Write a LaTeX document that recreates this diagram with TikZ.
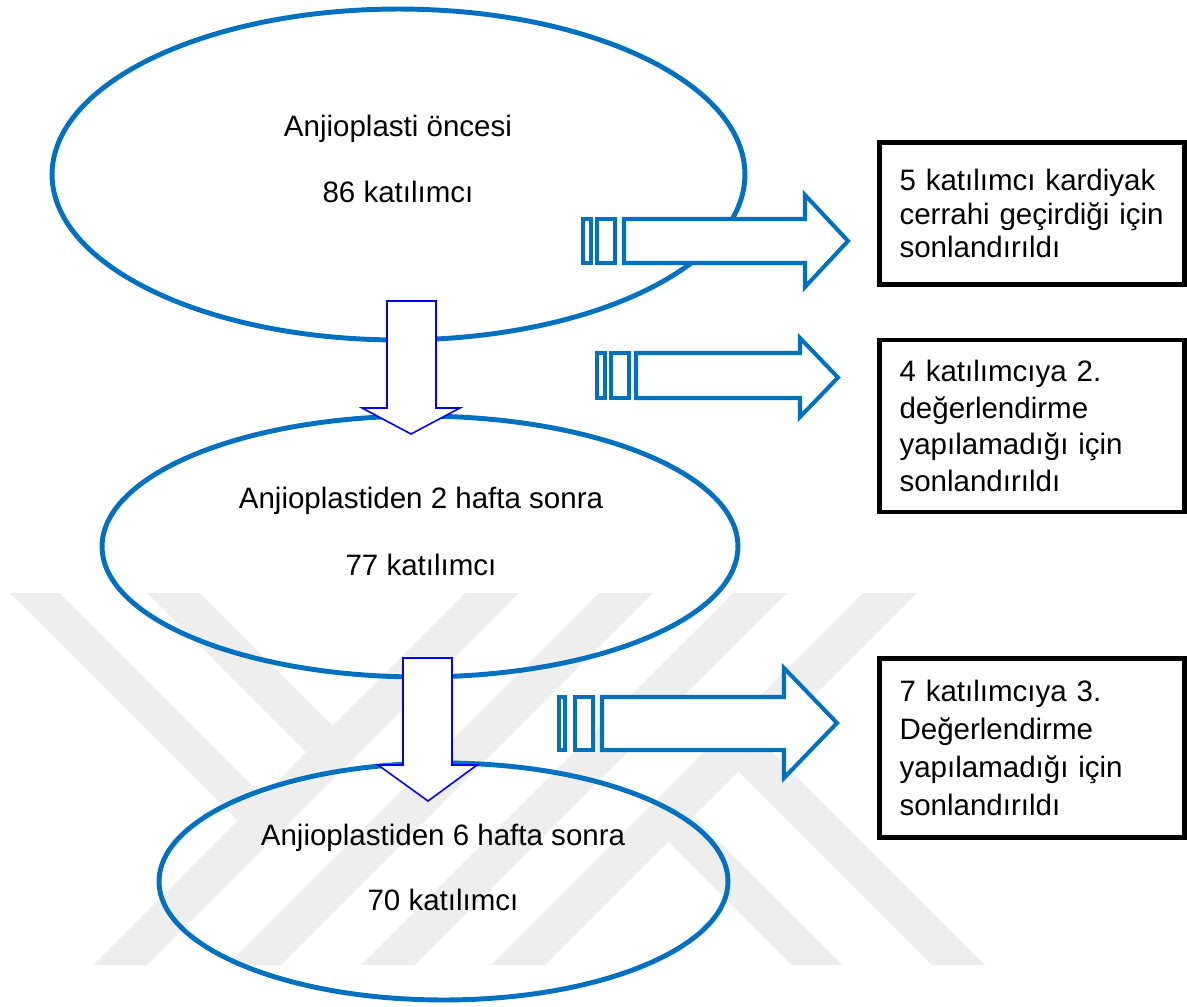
\documentclass[tikz,border=0pt]{standalone}
\usepackage{fontspec}
\setmainfont{Liberation Sans}
\usepackage{tikz}
\usetikzlibrary{shapes.geometric}
\definecolor{ovalblue}{RGB}{0,112,192}
\definecolor{markgray}{RGB}{238,238,238}

\begin{document}
\begin{tikzpicture}[x=0.02cm, y=-0.02cm,
  oval/.style={ellipse, draw=ovalblue, line width=2.8pt, inner sep=0pt},
  lbl/.style={anchor=base, font=\fontsize{16.8}{20}\selectfont},
  note/.style={draw, line width=2.8pt, fill=white, text width=5.3cm, inner xsep=0.4cm, align=left},
  downarr/.style={draw=blue, fill=white, line width=0.9pt},
  sidearr/.style={draw=ovalblue, fill=white, line width=2.3pt}]
  \useasboundingbox (0,0) rectangle (1187,1007);

  \foreach \s in {1058,1192,1326,1456}
    \fill[markgray] (\s-593,593) -- (\s-539,593) -- (\s-911,965) -- (\s-965,965) -- cycle;
  \fill[markgray] (10,593) -- (60,593) -- (262.5,795.5) -- (237.5,820.5) -- cycle;
  \fill[markgray] (147,593) -- (200,593) -- (332.5,725.5) -- (306,752) -- cycle;
  \fill[markgray] (738.5,771.5) -- (765,745) -- (985,965) -- (932,965) -- cycle;
  \fill[markgray] (668.5,841.5) -- (693.5,816.5) -- (842,965) -- (792,965) -- cycle;

  \node[oval, minimum width=13.86cm, minimum height=6.62cm] (pre) at (398.5,174.5) {};
  \node[oval, minimum width=12.72cm, minimum height=5.22cm] (wk2) at (420,546.5) {};
  \node[oval, minimum width=11.38cm, minimum height=4.74cm] (wk6) at (443.5,881.5) {};

  \node[lbl] (preA) at (398,136) {Anjioplasti öncesi};
  \node[lbl] (preB) at (398,202) {86 katılımcı};
  \node[lbl] (wk2A) at (421,508) {Anjioplastiden 2 hafta sonra};
  \node[lbl] (wk2B) at (421,575) {77 katılımcı};
  \node[lbl] (wk6A) at (443,845) {Anjioplastiden 6 hafta sonra};
  \node[lbl] (wk6B) at (443,910) {70 katılımcı};

  \draw[downarr] (387,301) -- (436,301) -- (436,408) -- (460,408) -- (411,434) -- (362,408) -- (387,408) -- cycle;
  \draw[downarr] (403,658) -- (452,658) -- (452,765) -- (477,765) -- (428,801) -- (378,765) -- (403,765) -- cycle;

  \draw[sidearr] (583,219) rectangle (591,263);
  \draw[sidearr] (597,219) rectangle (615,263);
  \draw[sidearr] (624,219) -- (805,219) -- (805,195) -- (848,241) -- (805,287) -- (805,263) -- (624,263) -- cycle;
  \draw[sidearr] (597,353) rectangle (605,398);
  \draw[sidearr] (611,353) rectangle (629,398);
  \draw[sidearr] (636,353) -- (800,353) -- (800,338) -- (838,377.5) -- (800,417) -- (800,398) -- (636,398) -- cycle;
  \draw[sidearr] (559,697) rectangle (565,750);
  \draw[sidearr] (575,697) rectangle (593,750);
  \draw[sidearr] (602,697) -- (784,697) -- (784,668) -- (837,723) -- (784,778) -- (784,750) -- (602,750) -- cycle;

  \node[note, minimum height=2.84cm, font=\fontsize{16.8}{19.3}\selectfont] (stop1) at (1032,213.5)
    {5 katılımcı kardiyak\\cerrahi geçirdiği için\\sonlandırıldı};
  \node[note, minimum height=3.44cm, font=\fontsize{16.8}{21}\selectfont] (stop2) at (1032,426)
    {4 katılımcıya 2.\\değerlendirme\\yapılamadığı için\\sonlandırıldı};
  \node[note, minimum height=3.58cm, font=\fontsize{16.8}{21.5}\selectfont] (stop3) at (1032,748)
    {7 katılımcıya 3.\\Değerlendirme\\yapılamadığı için\\sonlandırıldı};
\end{tikzpicture}
\end{document}
